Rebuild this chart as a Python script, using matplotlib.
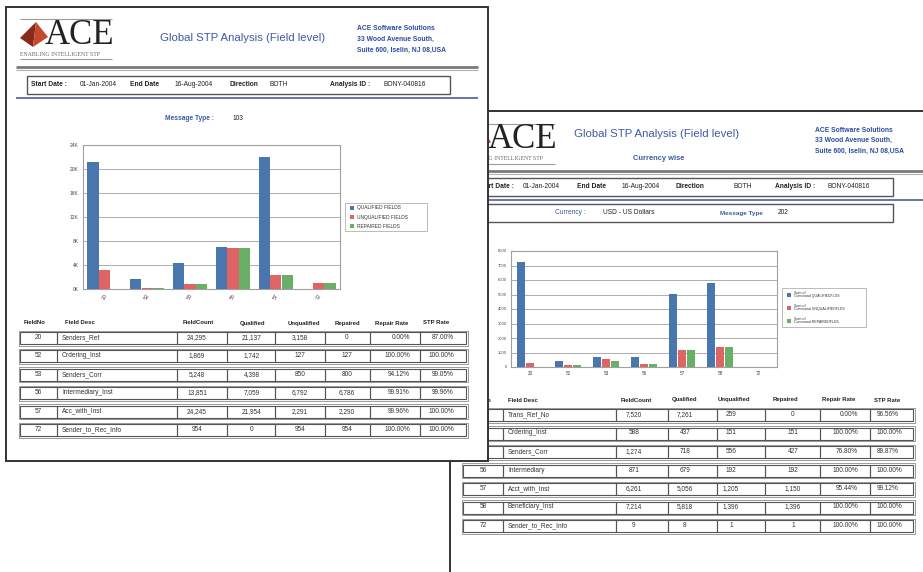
import matplotlib
matplotlib.use("Agg")
import numpy as np
import matplotlib.pyplot as plt
from matplotlib.patches import Rectangle, Polygon

# ---- report 1: message type 103 ----
fields_103 = ["20", "52", "53", "56", "57", "72"]
desc_103 = ["Senders_Ref", "Ordering_Inst", "Senders_Corr", "Intermediary_Inst", "Acc_with_Inst", "Sender_to_Rec_Info"]
count_103 = [24295, 1869, 5248, 13851, 24245, 954]
qualified_103 = [21137, 1742, 4398, 7059, 21954, 0]
unqualified_103 = [3158, 127, 850, 6792, 2291, 954]
repaired_103 = [0, 127, 800, 6786, 2290, 954]
repair_rate_103 = [0.00, 100.00, 94.12, 99.91, 99.96, 100.00]
stp_rate_103 = [87.00, 100.00, 99.05, 99.96, 100.00, 100.00]
legend_103 = ["QUALIFIED FIELDS", "UNQUALIFIED FIELDS", "REPAIRED FIELDS"]

# ---- report 2: currency wise, message type 202 ----
fields_202 = ["20", "52", "53", "56", "57", "58", "72"]
desc_202 = ["Trans_Ref_No", "Ordering_Inst", "Senders_Corr", "Intermediary", "Acct_with_Inst", "Beneficiary_Inst", "Sender_to_Rec_Info"]
count_202 = [7520, 588, 1274, 871, 6261, 7214, 9]
qualified_202 = [7261, 437, 718, 679, 5056, 5818, 8]
unqualified_202 = [259, 151, 556, 192, 1205, 1396, 1]
repaired_202 = [0, 151, 427, 192, 1150, 1396, 1]
repair_rate_202 = [0.00, 100.00, 76.80, 100.00, 95.44, 100.00, 100.00]
stp_rate_202 = [96.56, 100.00, 89.87, 100.00, 99.12, 100.00, 100.00]
legend_202 = ["Sum of\nCommand QUALIFIEDFLDS", "Sum of\nCommand UNQUALIFIEDFLDS", "Sum of\nCommand REPAIREDFLDS"]

headers = ["FieldNo", "Field Desc", "FieldCount", "Qualified", "Unqualified", "Repaired", "Repair Rate", "STP Rate"]
bar_colors = ["#4a76ae", "#e06464", "#68b068"]

W, H = 923, 572
SANS = "Liberation Sans"
SERIF = "Liberation Serif"
BLUE = "#3b5ba5"

fig = plt.figure(figsize=(W / 100, H / 100), dpi=100)
cv = fig.add_axes([0, 0, 1, 1])
cv.set_xlim(0, W)
cv.set_ylim(H, 0)
cv.axis("off")


def txt(x, y, s, size=4.8, color="#333333", weight="normal", ha="left", z=2, family=SANS, **kw):
    cv.text(x, y, s, fontsize=size, color=color, fontweight=weight, ha=ha, va="center",
            family=family, zorder=z, **kw)


def box(x0, y0, x1, y1, ec="#555555", lw=0.8, fc="none", z=2):
    cv.add_patch(Rectangle((x0, y0), x1 - x0, y1 - y0, fc=fc, ec=ec, lw=lw, zorder=z))


def hline(y, x0, x1, color, lw, z):
    cv.plot([x0, x1], [y, y], color=color, lw=lw, zorder=z, solid_capstyle="butt")


def logo(x, y, z):
    # x, y = left end of the top rule
    hline(y, x, x + 92, "#9a9a9a", 0.8, z)
    cv.add_patch(Polygon([(x, y + 19), (x + 16, y + 3), (x + 13, y + 28)], fc="#8a2a1c", ec="none", zorder=z))
    cv.add_patch(Polygon([(x + 16, y + 3), (x + 28, y + 18), (x + 13, y + 28)], fc="#c4492f", ec="none", zorder=z))
    txt(x + 25, y + 16, "ACE", size=25, color="#222222", family=SERIF, z=z)
    txt(x, y + 35, "ENABLING INTELLIGENT STP", size=4.2, color="#666666", family=SERIF, z=z)
    hline(y + 40, x, x + 92, "#9a9a9a", 0.8, z)


def header_block(x0, x1, y_rule, z):
    hline(y_rule, x0, x1, "#7a7a7a", 2.0, z)
    hline(y_rule + 3, x0, x1, "#b0b0b0", 0.8, z)


def table(edges, y_head, y0, step, cols, head_x, text_x, aligns, z):
    for i, (hx, hd) in enumerate(zip(head_x, headers)):
        txt(hx, y_head, hd, size=4.3, weight="bold", ha="center" if i != 1 else "left", color="#222222", z=z)
    n = len(cols[0])
    for r in range(n):
        yc = y0 + r * step
        box(edges[0] - 1.5, yc - 7.5, edges[-1] + 1.5, yc + 7.5, ec="#8a8a8a", lw=0.6, fc="white", z=z)
        for c in range(len(edges) - 1):
            box(edges[c], yc - 6, edges[c + 1], yc + 6, ec="#555555", lw=0.8, z=z)
        for c, col in enumerate(cols):
            txt(text_x[c], yc - 0.5, col[r], size=4.7, ha=aligns[c], z=z + 0.5)


def fmt_cols(fields, desc, count, qual, unq, rep, rr, stp):
    return [fields, desc, [f"{v:,}" for v in count], [f"{v:,}" for v in qual],
            [f"{v:,}" for v in unq], [f"{v:,}" for v in rep],
            [f"{v:.2f}%" for v in rr], [f"{v:.2f}%" for v in stp]]


def chart(px, fields, series, width, gap, ymax, step, ylab, rot, fs):
    x0, y0, x1, y1 = px
    ax = fig.add_axes([x0 / W, 1 - y1 / H, (x1 - x0) / W, (y1 - y0) / H])
    x = np.arange(len(fields))
    for k, (vals, c) in enumerate(zip(series, bar_colors)):
        ax.bar(x + (k - 1) * gap, vals, width, color=c, zorder=3)
    ax.set_xlim(-0.5, len(fields) - 0.5)
    ax.set_ylim(0, ymax)
    ticks = np.arange(0, ymax + 1, step)
    ax.set_yticks(ticks)
    ax.set_yticklabels([ylab(t) for t in ticks], fontsize=fs, color="#444444", family=SANS)
    ax.set_xticks(x)
    ax.set_xticklabels(fields, fontsize=fs + 0.3, color="#444444", family=SANS, rotation=rot)
    ax.tick_params(length=0, pad=3)
    ax.yaxis.grid(True, color="#a0a0a0", lw=0.6)
    ax.set_axisbelow(True)
    for s in ax.spines.values():
        s.set_color("#a0a0a0")
        s.set_linewidth(0.8)
    return ax


def legend(px, labels, fs, z):
    x0, y0, x1, y1 = px
    box(x0, y0, x1, y1, ec="#b0b0b0", lw=0.6, fc="white", z=z)
    n = len(labels)
    for k, (lab, c) in enumerate(zip(labels, bar_colors)):
        yc = y0 + (y1 - y0) * (k + 0.5) / n
        cv.add_patch(Rectangle((x0 + 5, yc - 2), 4, 4, fc=c, ec="none", zorder=z + 0.5))
        txt(x0 + 12, yc, lab, size=fs, color="#333333", z=z + 0.5, linespacing=0.95)


# =================== PAGE 2 (behind) ===================
Z2 = 1
box(450, 111, 930, 590, ec="#333333", lw=1.4, fc="white", z=Z2)
logo(463, 124, Z2 + 1)
txt(657, 134, "Global STP Analysis (Field level)", size=8.2, color=BLUE, ha="center", z=Z2 + 1)
txt(659, 158, "Currency wise", size=5.4, color=BLUE, weight="bold", ha="center", z=Z2 + 1)
for i, line in enumerate(["ACE Software Solutions", "33 Wood Avenue South,", "Suite 600, Iselin, NJ 08,USA"]):
    txt(815, 130 + i * 10.5, line, size=4.9, color="#2b4c9e", weight="bold", z=Z2 + 1)
header_block(452, 923, 171, Z2 + 1)
box(466, 178, 893, 196, ec="#555555", lw=1.0, z=Z2 + 1)
for x, s, b in [(478, "Start Date :", True), (523, "01-Jan-2004", False), (577, "End Date", True),
                (622, "16-Aug-2004", False), (675, "Direction", True), (733, "BOTH", False),
                (775, "Analysis ID :", True), (827, "BONY-040816", False)]:
    txt(x, 187, s, size=4.8, weight="bold" if b else "normal", color="#222222", z=Z2 + 1)
hline(200, 452, 923, "#4a5ea0", 1.2, Z2 + 1)
box(466, 204, 893, 222, ec="#555555", lw=1.0, z=Z2 + 1)
txt(555, 213, "Currency :", size=4.8, color=BLUE, z=Z2 + 1)
txt(603, 213, "USD - US Dollars", size=4.8, color="#222222", z=Z2 + 1)
txt(720, 213, "Message Type", size=4.6, color=BLUE, weight="bold", z=Z2 + 1)
txt(778, 213, "202", size=4.8, color="#222222", z=Z2 + 1)

chart((511, 251, 777, 367), fields_202, [qualified_202, unqualified_202, repaired_202],
      0.22, 0.237, 8000, 1000, lambda t: f"{t:.0f}", 0, 3.0)
legend((782, 288, 866, 327), legend_202, 2.6, Z2 + 1)

cols_202 = fmt_cols(fields_202, desc_202, count_202, qualified_202, unqualified_202,
                    repaired_202, repair_rate_202, stp_rate_202)
table([463, 503, 616, 668, 717, 765, 820, 870, 913], 400, 415, 18.5, cols_202,
      [481, 508, 636, 684, 734, 785, 839, 887],
      [483, 508, 634, 685, 731, 793, 858, 877],
      ["center", "left", "center", "center", "center", "center", "right", "left"], Z2 + 1)

# =================== PAGE 1 (front) ===================
Z1 = 10
box(6, 7, 488, 461, ec="#333333", lw=1.4, fc="white", z=Z1)
logo(20, 19, Z1 + 1)
txt(243, 38, "Global STP Analysis (Field level)", size=8.2, color=BLUE, ha="center", z=Z1 + 1)
for i, line in enumerate(["ACE Software Solutions", "33 Wood Avenue South,", "Suite 600, Iselin, NJ 08,USA"]):
    txt(357, 29 + i * 10.5, line, size=4.9, color="#2b4c9e", weight="bold", z=Z1 + 1)
header_block(16, 478, 67, Z1 + 1)
box(27, 76, 450, 94, ec="#555555", lw=1.0, z=Z1 + 1)
for x, s, b in [(31, "Start Date :", True), (80, "01-Jan-2004", False), (130, "End Date", True),
                (175, "16-Aug-2004", False), (230, "Direction", True), (270, "BOTH", False),
                (330, "Analysis ID :", True), (383, "BONY-040816", False)]:
    txt(x, 84, s, size=4.8, weight="bold" if b else "normal", color="#222222", z=Z1 + 1)
hline(98, 16, 478, "#4a5ea0", 1.2, Z1 + 1)
txt(165, 118, "Message Type :", size=4.8, color=BLUE, weight="bold", z=Z1 + 1)
txt(233, 118, "103", size=4.8, color="#222222", z=Z1 + 1)

chart((83, 145, 340, 289), fields_103, [qualified_103, unqualified_103, repaired_103],
      0.265, 0.27, 24000, 4000, lambda t: f"{t / 1000:.0f}K", 60, 3.5)
legend((345, 203, 427, 231), legend_103, 3.5, Z1 + 1)

cols_103 = fmt_cols(fields_103, desc_103, count_103, qualified_103, unqualified_103,
                    repaired_103, repair_rate_103, stp_rate_103)
table([20, 57, 177, 227, 275, 325, 370, 420, 466], 323, 338, 18.4, cols_103,
      [35, 65, 198, 252, 304, 347, 392, 436],
      [38, 62, 197, 252, 300, 347, 410, 454],
      ["center", "left", "center", "center", "center", "center", "right", "right"], Z1 + 1)

fig.savefig("out.png", dpi=100, facecolor="white")
